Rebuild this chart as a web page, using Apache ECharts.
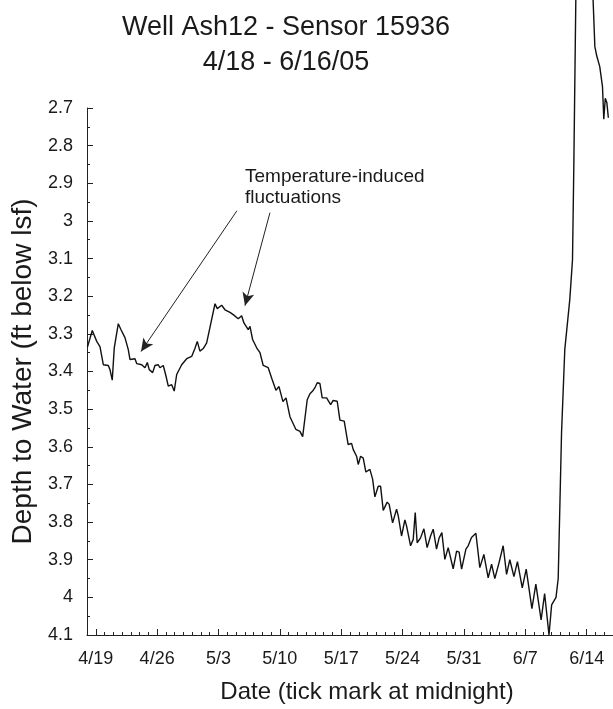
<!DOCTYPE html>
<html><head><meta charset="utf-8">
<script src="https://cdn.jsdelivr.net/npm/echarts@6/dist/echarts.min.js"></script>
<style>html,body{margin:0;padding:0;background:#fff}#c{width:613px;height:709px}</style>
</head><body><div id="c"></div>
<script>
// Days since 4/18/05 00:00
const dayOffsets = [0.05,0.60,1.11,1.48,1.86,2.43,2.62,2.88,3.11,3.57,3.88,4.33,4.71,4.90,5.47,5.67,6.24,6.61,6.88,7.10,7.49,7.75,8.13,8.32,8.70,9.01,9.27,9.66,9.95,10.23,10.80,11.37,11.94,12.31,12.58,12.88,13.26,13.65,14.10,14.60,14.86,15.36,15.74,16.31,16.68,17.25,17.64,17.90,18.39,18.59,18.89,19.35,19.73,20.1,20.67,21.1,21.55,21.9,22.35,22.7,23.15,23.83,24.29,24.60,25.12,25.43,25.74,26.0,26.26,26.57,26.83,27.33,27.79,28.08,28.54,28.85,29.34,29.79,30.18,30.36,30.75,30.94,31.21,31.51,31.81,32.27,32.58,32.84,33.22,33.49,33.79,34.24,34.47,34.86,35.31,35.5,35.88,36.26,36.45,36.91,37.21,37.44,37.66,38.05,38.43,38.80,39.19,39.49,39.87,40.17,40.48,40.82,41.20,41.39,41.77,42.16,42.45,42.73,43.22,43.48,43.86,44.36,44.81,45.27,45.76,46.15,46.52,47.01,47.47,47.86,48.23,48.7,49.1,49.65,50.1,50.75,51.2,51.8,52.2,52.7,53.0,53.5,53.75,54.13,54.50,55.07,55.38,55.53,55.76,56.7,57.73,57.93,58.15,58.49,58.80,58.95,59.12,59.30,59.47];
const depths = [3.335,3.291,3.32,3.334,3.382,3.384,3.395,3.423,3.337,3.273,3.289,3.31,3.342,3.368,3.366,3.379,3.382,3.39,3.376,3.395,3.403,3.384,3.382,3.39,3.384,3.412,3.439,3.435,3.452,3.408,3.382,3.366,3.36,3.339,3.32,3.346,3.339,3.324,3.275,3.22,3.233,3.224,3.236,3.243,3.249,3.26,3.252,3.271,3.289,3.28,3.315,3.337,3.35,3.384,3.39,3.42,3.45,3.44,3.48,3.47,3.52,3.554,3.559,3.573,3.475,3.459,3.452,3.443,3.43,3.432,3.47,3.47,3.488,3.477,3.479,3.529,3.532,3.594,3.591,3.607,3.625,3.647,3.625,3.63,3.667,3.66,3.686,3.733,3.705,3.705,3.769,3.747,3.753,3.802,3.766,3.783,3.837,3.794,3.81,3.863,3.846,3.775,3.855,3.842,3.818,3.868,3.837,3.819,3.872,3.842,3.828,3.899,3.868,3.866,3.924,3.877,3.88,3.925,3.872,3.863,3.841,3.83,3.921,3.886,3.948,3.912,3.95,3.907,3.863,3.939,3.90,3.945,3.905,3.975,3.925,4.03,3.965,4.06,3.99,4.10,4.02,4.0,3.95,3.563,3.342,3.209,3.103,2.856,2.41,2.2,2.414,2.537,2.562,2.59,2.643,2.73,2.674,2.686,2.726];
const tickDays = [1,8,15,22,29,36,43,50,57];
const tickLabels = ['4/19','4/26','5/3','5/10','5/17','5/24','5/31','6/7','6/14'];
// annotation arrows: [day, depth] of start and tip
const arrowFrom = [[17.1, 2.973], [20.87, 2.978]];
const arrowTo = [[6.16, 3.347], [18.02, 3.225]];

const FONT = 'Liberation Sans, Arial, sans-serif';
const chart = echarts.init(document.getElementById('c'), null, {renderer: 'canvas'});
const seriesData = dayOffsets.map((d, i) => [d, depths[i]]);
const labelMap = {};
tickDays.forEach((d, i) => labelMap[d] = tickLabels[i]);

chart.setOption({
  animation: false,
  backgroundColor: '#fff',
  title: {
    text: 'Well Ash12 - Sensor 15936\n4/18 - 6/16/05',
    left: 281, top: 5, textAlign: 'center',
    textStyle: {fontFamily: FONT, fontSize: 27, fontWeight: 'normal', color: '#1a1a1a', lineHeight: 35}
  },
  grid: {left: 87, top: 108, right: 0, bottom: 72, containLabel: false},
  xAxis: [{
    type: 'value', min: 0, max: 60,
    name: 'Date (tick mark at midnight)', nameLocation: 'middle', nameGap: 45,
    nameTextStyle: {fontFamily: FONT, fontSize: 24, color: '#1a1a1a', padding: [0, 0, 0, 34]},
    axisLine: {show: true, lineStyle: {color: '#222', width: 1}},
    axisTick: {show: true, inside: true, length: 6, customValues: tickDays, lineStyle: {color: '#222'}},
    axisLabel: {show: true, customValues: tickDays, margin: 15, fontFamily: FONT, fontSize: 18, color: '#1a1a1a',
      formatter: v => labelMap[Math.round(v)] || ''},
    splitLine: {show: false}
  }, {
    type: 'value', min: 0, max: 60, interval: 1, position: 'bottom',
    axisLine: {show: false},
    axisTick: {show: true, inside: true, length: 3, lineStyle: {color: '#222'}},
    axisLabel: {show: false},
    splitLine: {show: false}
  }],
  yAxis: {
    type: 'value', min: 2.7, max: 4.1, interval: 0.1, inverse: true,
    name: 'Depth to Water (ft below lsf)', nameLocation: 'middle', nameGap: 46,
    nameTextStyle: {fontFamily: FONT, fontSize: 28, color: '#1a1a1a'},
    axisLine: {show: true, lineStyle: {color: '#222', width: 1}},
    axisTick: {show: true, inside: true, length: 6, lineStyle: {color: '#222'}},
    minorTick: {show: true, splitNumber: 2, length: 3, lineStyle: {color: '#222'}},
    axisLabel: {margin: 14, fontFamily: FONT, fontSize: 18, color: '#1a1a1a'},
    splitLine: {show: false}
  },
  graphic: [{
    type: 'text', left: 245, top: 166,
    style: {text: 'Temperature-induced\nfluctuations', font: '19px ' + FONT, fill: '#1a1a1a', lineHeight: 21}
  }],
  series: [{
    type: 'line', xAxisIndex: 0, yAxisIndex: 0,
    data: seriesData, showSymbol: false, clip: false,
    lineStyle: {color: '#111', width: 1.4},
    markLine: {
      silent: true, animation: false,
      symbol: ['none', 'arrow'], symbolSize: [9, 13],
      lineStyle: {color: '#222', width: 1, type: 'solid'},
      label: {show: false},
      data: arrowFrom.map((s, i) => [{coord: s}, {coord: arrowTo[i]}])
    }
  }]
});
</script></body></html>
